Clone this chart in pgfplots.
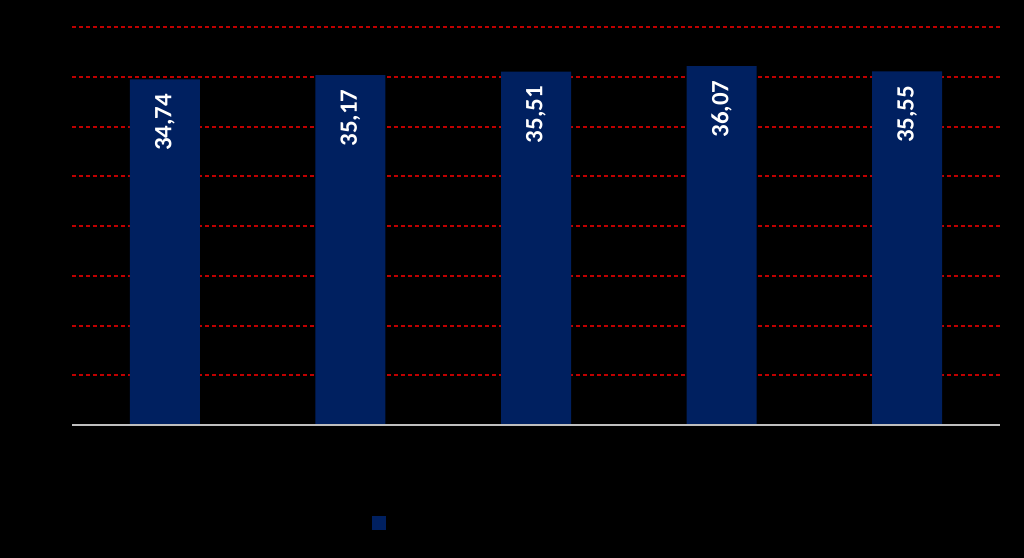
\documentclass[border=0pt]{standalone}
\usepackage{pgfplots}
\pgfplotsset{compat=1.18}
\usepackage{fontspec}
\setmainfont{Carlito}
\usetikzlibrary{backgrounds,calc}
\definecolor{barblue}{HTML}{002060}
\definecolor{gridred}{HTML}{C00000}
\definecolor{zeroline}{HTML}{BFBFBF}

\begin{document}
\begin{tikzpicture}
\begin{axis}[
    scale only axis,
    width=928bp, height=398bp,
    xmin=-0.5, xmax=4.5,
    ymin=0, ymax=40,
    axis line style={draw=none},
    xtick=\empty,
    ytick={5,10,...,40},
    yticklabels={},
    major tick length=0pt,
    ymajorgrids,
    grid style={gridred, line width=2bp, dash pattern=on 4bp off 3bp},
    clip=false,
    legend style={at={(0.323,-0.246)}, anchor=west, draw=none, fill=none,
                  inner sep=0pt, font=\fontsize{18}{20}\selectfont},
    legend image code/.code={\fill[barblue] (0bp,-7bp) rectangle (14bp,7bp);},
]
\addplot[ybar, bar width=70bp, fill=barblue, draw=none,
    nodes near coords,
    nodes near coords style={yshift=-11bp, rotate=90, anchor=east, text=white,
        font=\fontsize{25}{25}\selectfont\bfseries,
        /pgf/number format/.cd, use comma, fixed, fixed zerofill, precision=2,
        assume math mode=true},
] coordinates {
    (0,34.74) (1,35.17) (2,35.51) (3,36.07) (4,35.55)
};
\addlegendentry{}
\draw[zeroline, line width=1.5bp] (axis cs:-0.5,0) -- (axis cs:4.5,0);
\coordinate (O) at (rel axis cs:0,0);
\end{axis}
\begin{pgfonlayer}{background}
\fill[black] ($(O)+(-72bp,-133bp)$) rectangle ++(1024bp,558bp);
\end{pgfonlayer}
\end{tikzpicture}
\end{document}
